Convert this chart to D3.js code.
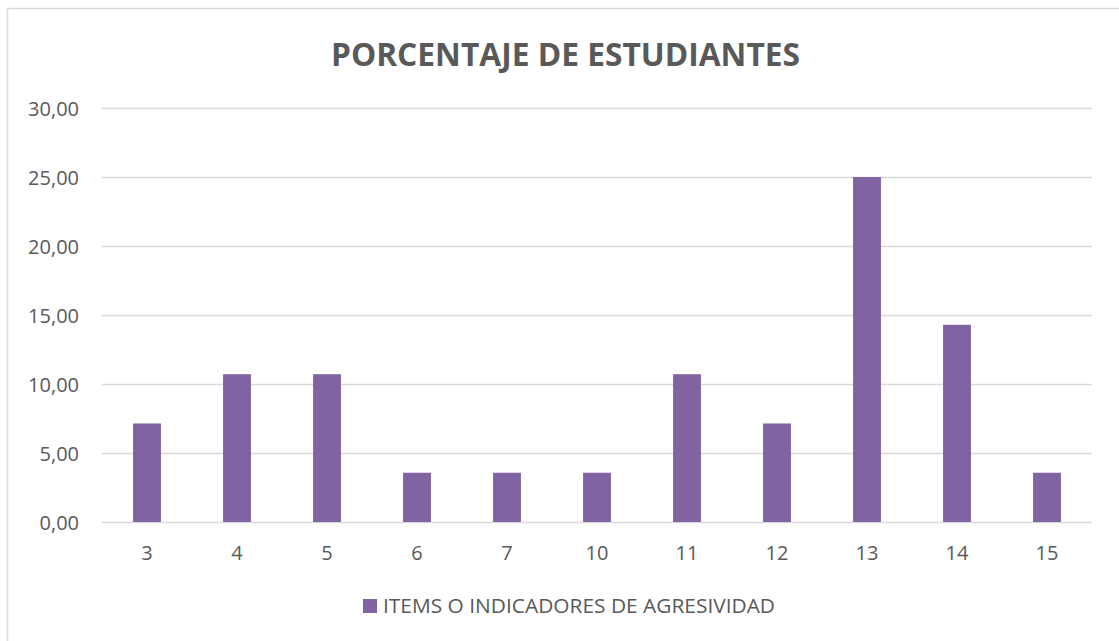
<!DOCTYPE html>
<html>
<head>
<meta charset="utf-8">
<script src="https://cdn.jsdelivr.net/npm/d3@7"></script>
<style>
  body { margin: 0; background: #fff; }
  text { font-family: "Open Sans", "Noto Sans", sans-serif; fill: #595959; }
</style>
</head>
<body>
<div id="chart"></div>
<script>
// datos del gráfico
const categories = ["3", "4", "5", "6", "7", "10", "11", "12", "13", "14", "15"];
const values = [7.14, 10.71, 10.71, 3.57, 3.57, 3.57, 10.71, 7.14, 25.00, 14.29, 3.57];
const yTicks = [0, 5, 10, 15, 20, 25, 30];
const title = "PORCENTAJE DE ESTUDIANTES";
const seriesName = "ITEMS O INDICADORES DE AGRESIVIDAD";

const width = 1119, height = 641;
const margin = { top: 108, right: 27, bottom: 119, left: 102 };

const svg = d3.select("#chart").append("svg")
    .attr("width", width)
    .attr("height", height);

// marco del gráfico
svg.append("rect")
    .attr("x", 7.5).attr("y", 8.5)
    .attr("width", width).attr("height", height)
    .attr("fill", "#fff")
    .attr("stroke", "#d9d9d9")
    .attr("stroke-width", 1.5);

const x = d3.scaleBand()
    .domain(categories)
    .range([margin.left, width - margin.right])
    .paddingInner(0.69)
    .paddingOuter(0.345);

const y = d3.scaleLinear()
    .domain([0, 30])
    .range([height - margin.bottom, margin.top]);

// líneas de cuadrícula
svg.append("g")
    .selectAll("line")
    .data(yTicks)
    .enter().append("line")
    .attr("x1", margin.left)
    .attr("x2", width - margin.right)
    .attr("y1", d => Math.round(y(d)) + 0.5)
    .attr("y2", d => Math.round(y(d)) + 0.5)
    .attr("stroke", "#d9d9d9")
    .attr("stroke-width", 1.3);

// etiquetas del eje Y
const fmt = d => d3.format(".2f")(d).replace(".", ",");
svg.append("g")
    .selectAll("text")
    .data(yTicks)
    .enter().append("text")
    .attr("x", 79)
    .attr("y", d => y(d) + 8)
    .attr("text-anchor", "end")
    .attr("font-size", 20)
    .text(fmt);

// barras
svg.append("g")
    .selectAll("rect")
    .data(values)
    .enter().append("rect")
    .attr("x", (d, i) => x(categories[i]))
    .attr("width", x.bandwidth())
    .attr("y", d => y(d))
    .attr("height", d => y(0) - y(d))
    .attr("fill", "#8064a2");

// etiquetas del eje X
svg.append("g")
    .selectAll("text")
    .data(categories)
    .enter().append("text")
    .attr("x", d => x(d) + x.bandwidth() / 2)
    .attr("y", 560)
    .attr("text-anchor", "middle")
    .attr("font-size", 20)
    .text(d => d);

// título
svg.append("text")
    .attr("x", 331)
    .attr("y", 66)
    .attr("font-size", 32)
    .attr("font-weight", "bold")
    .attr("textLength", 469)
    .attr("lengthAdjust", "spacingAndGlyphs")
    .text(title);

// leyenda
svg.append("rect")
    .attr("x", 363).attr("y", 599)
    .attr("width", 14).attr("height", 14)
    .attr("fill", "#8064a2");

svg.append("text")
    .attr("x", 383)
    .attr("y", 613)
    .attr("font-size", 20)
    .attr("textLength", 392)
    .attr("lengthAdjust", "spacingAndGlyphs")
    .text(seriesName);
</script>
</body>
</html>
